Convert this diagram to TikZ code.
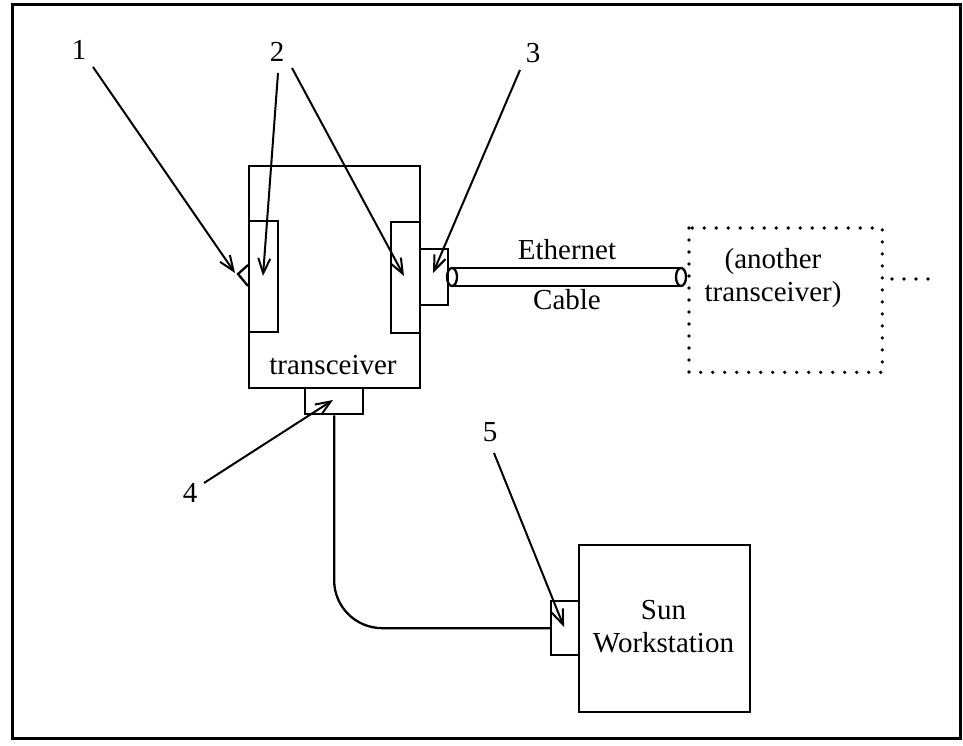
\documentclass[tikz,border=0pt]{standalone}
\usepackage{fontspec}
\setmainfont{Liberation Serif}
\usetikzlibrary{arrows.meta}

\begin{document}
\begin{tikzpicture}[x=1pt,y=-1pt,
  box/.style={draw, line width=2.3pt, inner sep=0pt, anchor=north west},
  lbl/.style={font=\fontsize{29}{33}\selectfont, inner sep=0pt, align=center},
  ptr/.style={line width=2pt, -{Straight Barb[length=15pt,width=12pt,line width=2pt]}},
  wire/.style={line width=2.3pt},
  dotline/.style={line width=3.6pt, line cap=round, dash pattern=on 0pt off 12pt}]

\useasboundingbox (0,0) rectangle (963,746);
% outer frame
\draw[line width=3pt] (12,5) rectangle (960,738);

% transceiver body and its parts
\node[box, minimum width=171pt, minimum height=222pt] (tr) at (248,165) {};
\node[box, minimum width=29pt, minimum height=111pt] (ilft) at (248,220) {};
\node[box, minimum width=29pt, minimum height=111pt] (irgt) at (390,221) {};
\node[box, minimum width=28pt, minimum height=56pt] (cthree) at (419,248) {};
\node[box, minimum width=58pt, minimum height=26pt] (cfour) at (304,387) {};
\node[lbl] (trl) at (333,365) {transceiver};

% clamp wedge on the left side
\coordinate (wtip) at (238,274);
\draw[wire] (248,265) -- (wtip) -- (248,286);

% Ethernet cable
\coordinate (ca) at (452,277);
\coordinate (cb) at (681,277);
\draw[wire] (ca) ellipse [x radius=5pt, y radius=9pt];
\draw[wire] (cb) ellipse [x radius=5pt, y radius=9pt];
\draw[wire] ([yshift=-9pt]ca) -- ([yshift=-9pt]cb);
\draw[wire] ([yshift=9pt]ca) -- ([yshift=9pt]cb);
\node[lbl] (eth) at (567,250) {Ethernet};
\node[lbl] (cab) at (567,300) {Cable};

% the other transceiver
\node[box, draw=none, minimum width=191pt, minimum height=142pt] (other) at (689,228) {};
\draw[dotline] (other.north west) rectangle (other.south east);
\node[lbl] (otl) at (773,278) {(another\\transceiver)};
\coordinate (more) at (937,279);
\draw[dotline] (892,279) -- (more);

% workstation
\node[box, minimum width=171pt, minimum height=167pt] (ws) at (578,544) {};
\node[box, minimum width=28pt, minimum height=54pt] (cfive) at (550,600) {};
\node[lbl] (wsl) at (663.5,627) {Sun\\Workstation};

% drop cable
\draw[wire, rounded corners=48pt] (cfour.south) |- (cfive.west);

% numbered labels
\node[lbl] (n1) at (79,50) {1};
\node[lbl] (n2) at (277,52) {2};
\node[lbl] (n3) at (533,53) {3};
\node[lbl] (n4) at (190,493) {4};
\node[lbl] (n5) at (490,432) {5};

% pointers
\coordinate (p1s) at (93,67);   \coordinate (p1e) at (235,273);
\coordinate (p2s) at (278,73);  \coordinate (p2e) at (263,276);
\coordinate (p2t) at (292,68);  \coordinate (p2f) at (404,276);
\coordinate (p3s) at (520,70);  \coordinate (p3e) at (433,273);
\coordinate (p4s) at (204,483); \coordinate (p4e) at (333,400);
\coordinate (p5s) at (494,453); \coordinate (p5e) at (564,627);
\draw[ptr] (p1s) -- (p1e);
\draw[ptr] (p2s) -- (p2e);
\draw[ptr] (p2t) -- (p2f);
\draw[ptr] (p3s) -- (p3e);
\draw[ptr] (p4s) -- (p4e);
\draw[ptr] (p5s) -- (p5e);
\end{tikzpicture}
\end{document}
